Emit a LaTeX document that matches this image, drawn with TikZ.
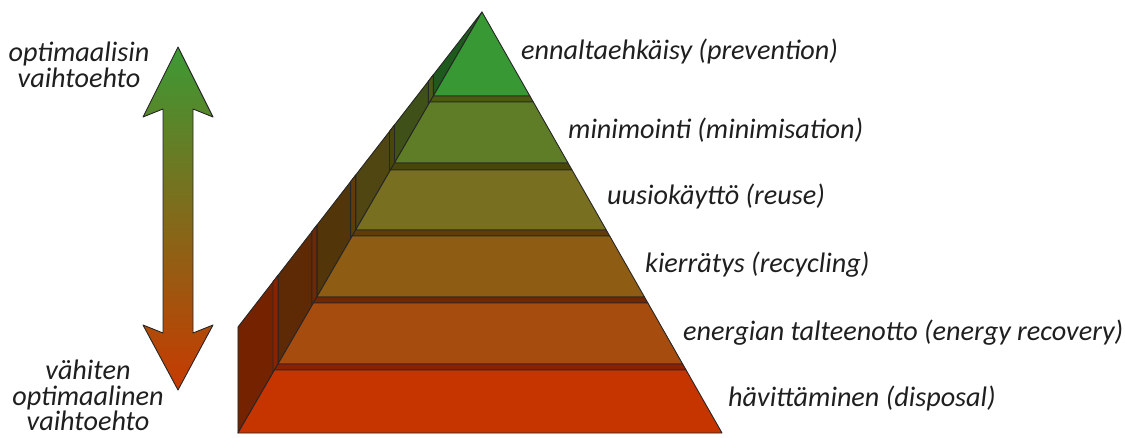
\documentclass[tikz,border=0pt]{standalone}
\usepackage{fontspec}
\setmainfont{Carlito}
\usepackage{xcolor}
\usepackage{tikz}

\definecolor{face1}{HTML}{389834}
\definecolor{face2}{HTML}{5E7D26}
\definecolor{face3}{HTML}{787020}
\definecolor{face4}{HTML}{8F5C14}
\definecolor{face5}{HTML}{A64C0F}
\definecolor{face6}{HTML}{C63500}
\definecolor{wall1}{HTML}{1E5A1E}
\definecolor{wall2}{HTML}{3F5018}
\definecolor{wall3}{HTML}{504612}
\definecolor{wall4}{HTML}{52360A}
\definecolor{wall5}{HTML}{5E2A05}
\definecolor{wall6}{HTML}{742200}
\definecolor{strip2}{HTML}{4A5A10}
\definecolor{strip3}{HTML}{48460A}
\definecolor{strip4}{HTML}{603C08}
\definecolor{strip5}{HTML}{6E2804}
\definecolor{strip6}{HTML}{8A2200}
\definecolor{arrowtop}{HTML}{3C9A35}
\definecolor{arrowmid}{HTML}{6E6A1E}
\definecolor{arrowbot}{HTML}{C83A00}

\begin{document}
\begin{tikzpicture}[x=1pt,y=-1pt,
  lbl/.style={font=\fontsize{28.2}{25.5}\selectfont\itshape, inner sep=0pt, text=black!88},
  edge/.style={draw=black!85, line width=0.9pt, line join=round}]
\useasboundingbox (0,0) rectangle (1125,437);
% side walls
\foreach \k/\yt/\yb/\yp in {1/12/96/12, 2/102/163/96, 3/170/230/163, 4/236/297/230, 5/303/364/297, 6/370/433/364} {
  \pgfmathsetmacro\xa{482-0.5796*(\yb-12)}
  \pgfmathsetmacro\xb{482-0.5796*(\yp-12)}
  \pgfmathsetmacro\ya{12+1.291*(482-\xa)}
  \pgfmathsetmacro\yc{12+1.291*(482-\xb)}
  \filldraw[edge, fill=wall\k] (\xa,\yb) -- (\xa,\ya) -- (\xb,\yc) -- (\xb,\yp) -- cycle;
  \ifnum\k>1
    \pgfmathsetmacro\xc{\xb-5}
    \pgfmathsetmacro\yd{12+1.291*(482-\xc)}
    \pgfmathsetmacro\ye{12+(482-\xc)/0.5796}
    \filldraw[edge, fill=strip\k] (\xc,\yd) -- (\xb,\yc) -- (\xb,\yp) -- (\xc,\ye) -- cycle;
  \fi
}
% front faces and top strips
\foreach \k/\yt/\yb/\yp in {1/12/96/12, 2/102/163/96, 3/170/230/163, 4/236/297/230, 5/303/364/297, 6/370/433/364} {
  \pgfmathsetmacro\xlt{482-0.5796*(\yt-12)}
  \pgfmathsetmacro\xrt{482+0.5701*(\yt-12)}
  \pgfmathsetmacro\xlb{482-0.5796*(\yb-12)}
  \pgfmathsetmacro\xrb{482+0.5701*(\yb-12)}
  \ifnum\k>1
    \pgfmathsetmacro\xlp{482-0.5796*(\yp-12)}
    \pgfmathsetmacro\xrp{482+0.5701*(\yp-12)}
    \filldraw[edge, fill=strip\k] (\xlp,\yp) -- (\xrp,\yp) -- (\xrt,\yt) -- (\xlt,\yt) -- cycle;
  \fi
  \filldraw[edge, fill=face\k] (\xlt,\yt) -- (\xrt,\yt) -- (\xrb,\yb) -- (\xlb,\yb) -- cycle;
}
% double arrow
\shadedraw[top color=arrowtop, middle color=arrowmid, bottom color=arrowbot, edge]
  (178,47) -- (213,117) -- (193,109) -- (193,333) -- (213,325) -- (178,390)
  -- (143,325) -- (163,333) -- (163,109) -- (143,117) -- cycle;
% labels
\node[lbl, anchor=base west] (prevention) at (521,59) {ennaltaehkäisy (prevention)};
\node[lbl, anchor=base west] (minimisation) at (568,138) {minimointi (minimisation)};
\node[lbl, anchor=base west] (reuse) at (607,204) {uusiokäyttö (reuse)};
\node[lbl, anchor=base west] (recycling) at (645,272) {kierrätys (recycling)};
\node[lbl, anchor=base west] (recovery) at (683,340) {energian talteenotto (energy recovery)};
\node[lbl, anchor=base west] (disposal) at (728,406) {hävittäminen (disposal)};
\node[lbl, align=center, anchor=north] (best) at (79,42) {optimaalisin\\vaihtoehto};
\node[lbl, align=center, anchor=north] (worst) at (88,360) {vähiten\\optimaalinen\\vaihtoehto};
\end{tikzpicture}
\end{document}
